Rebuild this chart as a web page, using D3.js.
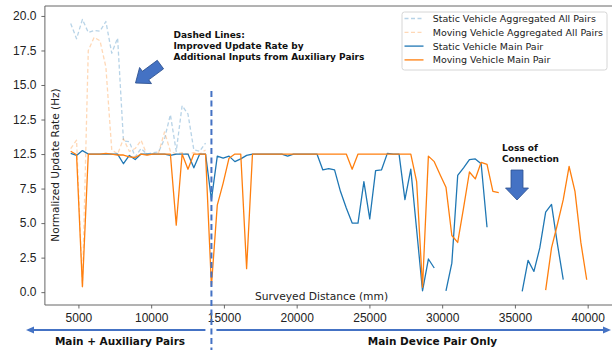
<!DOCTYPE html>
<html>

<head>
  <meta charset="utf-8">
  <title>Update rate vs surveyed distance</title>
  <script src="https://cdn.jsdelivr.net/npm/d3@7"></script>
  <style type="text/css">
    body {
      margin: 0;
      background: #fff;
    }

    svg {
      display: block;
      font-family: 'DejaVu Sans', Verdana, sans-serif;
    }

    .tick text {
      fill: #222;
      font-size: 12px;
    }

    .note {
      font-weight: bold;
      fill: #111;
    }
  </style>
</head>

<body>
  <div id="chartArea"></div>
  <script type="text/javascript">
    // surveyed distance of every sample (mm)
    const distance = [
      4470, 4873, 5276, 5679, 6082, 6485, 6888, 7291, 7694, 8097,
      8500, 8903, 9306, 9709, 10112, 10515, 10918, 11321, 11724, 12127,
      12530, 12933, 13336, 13739, 14142, 14545, 14948, 15351, 15754, 16157,
      16560, 16963, 17366, 17769, 18172, 18575, 18978, 19381, 19784, 20187,
      20590, 20993, 21396, 21799, 22202, 22605, 23008, 23411, 23814, 24217,
      24620, 25023, 25426, 25829, 26232, 26635, 27038, 27441, 27844, 28247,
      28650, 29053, 29456, 29859, 30262, 30665, 31068, 31471, 31874, 32277,
      32680, 33083, 33486, 33889, 34292, 34695, 35098, 35501, 35904, 36307,
      36710, 37113, 37516, 37919, 38322, 38725, 39128, 39531, 39934
    ];

    // aggregated (main + auxiliary pairs), only recorded up to the switch point
    const staticAll = [
      19.45, 18.35, 19.75, 18.8, 18.95, 18.9, 19.6, 17.3, 18.4, 10.95,
      10.9, 9.8, 10.4, 10.0, 10.1, 10.15, 11.1, 12.85, 10.2, 13.5,
      12.9, 10.3, 10.2, 10.8
    ];
    const movingAll = [
      10.4, 11.0, 0.4, 17.5, 18.45, 18.2, 16.3, 10.3, 10.0, 11.1,
      10.2, 10.4, 11.0, 9.95, 10.0, 10.1, 11.6, 10.2, 10.0, 10.1,
      10.0, 10.1, 10.0, 10.3
    ];

    // main device pair only (null = lost connection)
    const staticMain = [
      10.05, 9.9, 10.25, 10.0, 10.0, 10.0, 10.0, 10.0, 10.0, 9.3,
      9.9, 9.6, 10.0, 10.0, 10.0, 10.0, 10.0, 9.9, 10.0, 10.0,
      10.0, 9.0, 10.0, 10.0, 6.7, 9.85, 9.7, 9.85, 9.45, 9.65,
      9.9, 10.0, 10.0, 10.0, 10.0, 10.0, 10.0, 9.85, 10.0, 10.0,
      10.0, 10.0, 10.0, 8.85, 8.95, 8.85, 7.3, 6.1, 5.0, 5.0,
      8.0, 5.3, 8.8, 8.85, 10.05, 10.0, 10.0, 6.7, 8.9, 4.5,
      0.1, 2.4, 1.75, null, 0.1, 2.1, 8.45, 9.0, 9.6, 9.65,
      9.3, 4.7, null, null, null, null, null, 0.05, 2.3, 1.5,
      3.2, 5.8, 6.35, 3.5, 0.9, null, null, null, null
    ];
    const movingMain = [
      10.2, 9.95, 0.4, 10.0, 10.0, 10.0, 10.05, 10.0, 9.93, 9.93,
      9.8, 9.75, 10.0, 9.93, 10.0, 10.0, 10.0, 10.0, 4.85, 10.0,
      8.9, 10.0, 10.0, 10.0, 0.45, 6.3, 7.9, 9.7, 10.0, 10.0,
      1.7, 10.0, 10.0, 10.0, 10.0, 10.0, 10.0, 10.0, 10.0, 10.0,
      10.0, 10.0, 10.0, 10.0, 10.0, 10.0, 10.0, 10.0, 8.9, 10.0,
      10.0, 10.0, 10.0, 10.0, 10.0, 10.0, 10.0, 10.0, 10.0, 8.0,
      0.35, 9.85, 9.45, 8.5, 7.6, 4.1, 3.6, 6.1, 8.7, 8.2,
      9.4, 9.25, 7.3, 7.2, null, null, null, null, null, null,
      null, 0.15, 3.2, 4.9, 6.7, 9.1, 7.3, 3.6, 0.9
    ];

    const xTickValues = [5000, 10000, 15000, 20000, 25000, 30000, 35000, 40000];
    const yTickValues = [0, 2.5, 5, 7.5, 10, 12.5, 15, 17.5, 20];
    const yTickLabels = ['0.0', '2.5', '5.0', '7.5', '12.5', '12.5', '15.0', '17.5', '20.0'];

    const switchDistance = 14142;

    const seriesNames = [
      'Static Vehicle Aggregated All Pairs',
      'Moving Vehicle Aggregated All Pairs',
      'Static Vehicle Main Pair',
      'Moving Vehicle Main Pair'
    ];

    let w = 612;
    let h = 350;
    let box = { left: 44.9, right: 612.5, top: 6, bottom: 305 };

    let xScale = d3.scaleLinear()
      .domain([2697, 41707])
      .range([box.left, box.right]);

    let yScale = d3.scaleLinear()
      .domain([-0.93, 20.72])
      .range([box.bottom, box.top]);

    let svg = d3.select('#chartArea').append('svg')
      .attr('width', w)
      .attr('height', h);

    svg.append('clipPath').attr('id', 'plotClip')
      .append('rect')
      .attr('x', box.left).attr('y', box.top)
      .attr('width', box.right - box.left).attr('height', box.bottom - box.top);

    // axes
    let yAxis = d3.axisLeft(yScale)
      .tickValues(yTickValues)
      .tickFormat((d, i) => yTickLabels[i])
      .tickSize(3.5)
      .tickPadding(5);
    svg.append('g')
      .attr('transform', `translate(${box.left},0)`)
      .call(yAxis)
      .call(g => g.select('.domain').remove())
      .call(g => g.selectAll('.tick line').attr('stroke', '#444').attr('stroke-width', 0.8))
      .call(g => g.selectAll('.tick text').attr('font-family', null));

    let xAxis = d3.axisBottom(xScale)
      .tickValues(xTickValues)
      .tickFormat(d3.format('d'))
      .tickSize(3.5)
      .tickPadding(5);
    svg.append('g')
      .attr('transform', `translate(0,${box.bottom})`)
      .call(xAxis)
      .call(g => g.select('.domain').remove())
      .call(g => g.selectAll('.tick line').attr('stroke', '#444').attr('stroke-width', 0.8))
      .call(g => g.selectAll('.tick text').attr('font-family', null));

    // spines (right one falls outside the picture)
    svg.append('path')
      .attr('d', `M${box.right},${box.top}H${box.left}V${box.bottom}H${box.right}`)
      .attr('fill', 'none')
      .attr('stroke', '#555')
      .attr('stroke-width', 0.9);

    // series
    let line = d3.line()
      .defined(d => d[1] != null)
      .x(d => xScale(d[0]))
      .y(d => yScale(d[1]));

    const toPoints = values => values.map((v, i) => [distance[i], v]);

    let series = [
      { values: staticAll, color: '#1f77b4', opacity: 0.32, dash: '4,2.5' },
      { values: movingAll, color: '#ff7f0e', opacity: 0.3, dash: '4,2.5' },
      { values: staticMain, color: '#1f77b4', opacity: 1, dash: null },
      { values: movingMain, color: '#ff7f0e', opacity: 1, dash: null }
    ];

    let plot = svg.append('g').attr('clip-path', 'url(#plotClip)');
    plot.selectAll('path.series')
      .data(series)
      .enter()
      .append('path')
      .attr('class', 'series')
      .attr('d', d => line(toPoints(d.values)))
      .attr('fill', 'none')
      .attr('stroke', d => d.color)
      .attr('stroke-opacity', d => d.opacity)
      .attr('stroke-width', 1.3)
      .attr('stroke-dasharray', d => d.dash)
      .attr('stroke-linejoin', 'round');

    // axis titles (placed inside the frame as in the original)
    svg.append('text')
      .attr('x', 321.5)
      .attr('y', 299.5)
      .attr('text-anchor', 'middle')
      .attr('font-size', 10.7)
      .attr('fill', '#222')
      .text('Surveyed Distance (mm)');

    svg.append('text')
      .attr('transform', 'translate(59.3,165) rotate(-90)')
      .attr('text-anchor', 'middle')
      .attr('font-size', 10.5)
      .attr('fill', '#222')
      .text('Normalized Update Rate (Hz)');

    // legend
    let legend = svg.append('g').attr('transform', 'translate(402,12)');
    legend.append('rect')
      .attr('width', 205)
      .attr('height', 58)
      .attr('rx', 2.5)
      .attr('fill', '#fff')
      .attr('fill-opacity', 0.8)
      .attr('stroke', '#ccc')
      .attr('stroke-width', 0.8);
    let rows = legend.selectAll('g.row')
      .data(series)
      .enter()
      .append('g')
      .attr('class', 'row')
      .attr('transform', (d, i) => `translate(0,${6.5 + i * 13.8})`);
    rows.append('line')
      .attr('x1', 2.5).attr('x2', 21.5)
      .attr('stroke', d => d.color)
      .attr('stroke-opacity', d => d.opacity)
      .attr('stroke-width', 1.3)
      .attr('stroke-dasharray', d => d.dash);
    rows.append('text')
      .attr('x', 30.7)
      .attr('y', 3.4)
      .attr('font-size', 9.5)
      .attr('fill', '#222')
      .text((d, i) => seriesNames[i]);

    // switch point between main+aux and main only
    let accent = '#4472C4';
    let sx = xScale(switchDistance);
    svg.append('line')
      .attr('x1', sx).attr('x2', sx)
      .attr('y1', 91).attr('y2', 350)
      .attr('stroke', accent)
      .attr('stroke-width', 2)
      .attr('stroke-dasharray', '6,3.5');

    // bottom arrows
    let arrowY = 330;
    svg.append('line')
      .attr('x1', sx - 6).attr('x2', 32)
      .attr('y1', arrowY).attr('y2', arrowY)
      .attr('stroke', accent).attr('stroke-width', 2);
    svg.append('path')
      .attr('d', `M26,${arrowY}L34,${arrowY - 3.6}L34,${arrowY + 3.6}Z`)
      .attr('fill', accent);
    svg.append('line')
      .attr('x1', sx + 5).attr('x2', 605)
      .attr('y1', arrowY).attr('y2', arrowY)
      .attr('stroke', accent).attr('stroke-width', 2);
    svg.append('path')
      .attr('d', `M611,${arrowY}L603,${arrowY - 3.6}L603,${arrowY + 3.6}Z`)
      .attr('fill', accent);

    svg.append('text')
      .attr('class', 'note')
      .attr('x', 120)
      .attr('y', 345)
      .attr('text-anchor', 'middle')
      .attr('font-size', 10.5)
      .text('Main + Auxiliary Pairs');
    svg.append('text')
      .attr('class', 'note')
      .attr('x', 432.5)
      .attr('y', 345)
      .attr('text-anchor', 'middle')
      .attr('font-size', 10.5)
      .text('Main Device Pair Only');

    // callouts
    let dashedNote = svg.append('text')
      .attr('class', 'note')
      .attr('font-size', 9);
    ['Dashed Lines:', 'Improved Update Rate by', 'Additional Inputs from Auxiliary Pairs']
      .forEach((t, i) => {
        dashedNote.append('tspan').attr('x', 173.5).attr('y', 38.3 + i * 10.9).text(t);
      });

    let lossNote = svg.append('text')
      .attr('class', 'note')
      .attr('font-size', 9);
    ['Loss of', 'Connection'].forEach((t, i) => {
      lossNote.append('tspan').attr('x', 502).attr('y', 150.5 + i * 11).text(t);
    });

    // block arrow: tip at (tx, ty), pointing at angle (deg)
    function blockArrow(tx, ty, angle, len, shaftHalf, headHalf, headLen) {
      let pts = [
        [0, 0], [-headLen, -headHalf], [-headLen, -shaftHalf], [-len, -shaftHalf],
        [-len, shaftHalf], [-headLen, shaftHalf], [-headLen, headHalf]
      ];
      svg.append('path')
        .attr('d', 'M' + pts.map(p => p.join(',')).join('L') + 'Z')
        .attr('transform', `translate(${tx},${ty}) rotate(${angle})`)
        .attr('fill', accent)
        .attr('stroke', '#2F528F')
        .attr('stroke-width', 0.8);
    }
    blockArrow(135.5, 83, 143.5, 31, 5.3, 10, 12.5);
    blockArrow(517, 200, 90, 30, 6, 11.5, 12);
  </script>
</body>

</html>
